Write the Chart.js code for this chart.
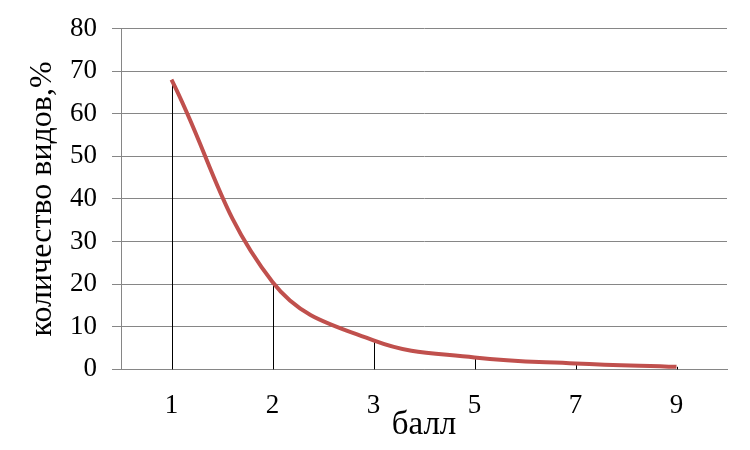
<!DOCTYPE html>
<html>
<head>
<meta charset="utf-8">
<script src="https://cdn.jsdelivr.net/npm/chart.js@4"></script>
<style>
  html, body { margin: 0; padding: 0; background: #fff; }
  #wrap { width: 750px; height: 450px; }
</style>
</head>
<body>
<div id="wrap"><canvas id="chart" width="750" height="450"></canvas></div>
<script>
// scores on the x axis and share of species for each score
const scores = ['1', '2', '3', '5', '7', '9'];
const speciesShare = [68, 20.5, 6.8, 2.8, 1.4, 0.6];

const yMin = 0;
const yMax = 80;
const yStep = 10;

const serif = '"Liberation Serif", "Times New Roman", serif';

// thin black lines dropped from every point down to the x axis
const dropLines = {
  id: 'dropLines',
  beforeDatasetsDraw(chart) {
    const { ctx, scales } = chart;
    const meta = chart.getDatasetMeta(0);
    ctx.save();
    ctx.strokeStyle = '#000';
    ctx.lineWidth = 1;
    meta.data.forEach((pt, i) => {
      const x = Math.round(scales.x.getPixelForValue(i)) + 0.5;
      const y = scales.y.getPixelForValue(speciesShare[i]);
      ctx.beginPath();
      ctx.moveTo(x, y);
      ctx.lineTo(x, scales.y.getPixelForValue(yMin));
      ctx.stroke();
    });
    ctx.restore();
  }
};

const ctx = document.getElementById('chart').getContext('2d');
new Chart(ctx, {
  type: 'line',
  data: {
    labels: scores,
    datasets: [{
      data: speciesShare,
      borderColor: '#C0504D',
      borderWidth: 4,
      pointRadius: 0,
      tension: 0.4,
      fill: false
    }]
  },
  options: {
    responsive: false,
    animation: false,
    layout: { padding: { top: 25, right: 23, left: 16, bottom: 18 } },
    plugins: {
      legend: { display: false },
      tooltip: { enabled: false }
    },
    scales: {
      x: {
        offset: true,
        grid: { display: false, drawTicks: false },
        border: { display: true, color: '#868686', width: 1 },
        ticks: {
          color: '#000',
          padding: 20,
          maxRotation: 0,
          font: { family: serif, size: 27 }
        },
        title: {
          display: true,
          text: 'балл',
          color: '#000',
          padding: { top: -23, bottom: 0 },
          font: { family: serif, size: 33, lineHeight: 0.4 }
        }
      },
      y: {
        min: yMin,
        max: yMax,
        ticks: {
          stepSize: yStep,
          color: '#000',
          padding: 15,
          font: { family: serif, size: 27, lineHeight: 1 }
        },
        grid: { color: '#868686', lineWidth: 1, tickLength: 9 },
        border: { display: true, color: '#868686', width: 1 },
        title: {
          display: true,
          text: 'количество видов,%',
          color: '#000',
          padding: { top: 15, bottom: 0 },
          font: { family: serif, size: 32, lineHeight: 0.75 }
        }
      }
    }
  },
  plugins: [dropLines]
});
</script>
</body>
</html>
